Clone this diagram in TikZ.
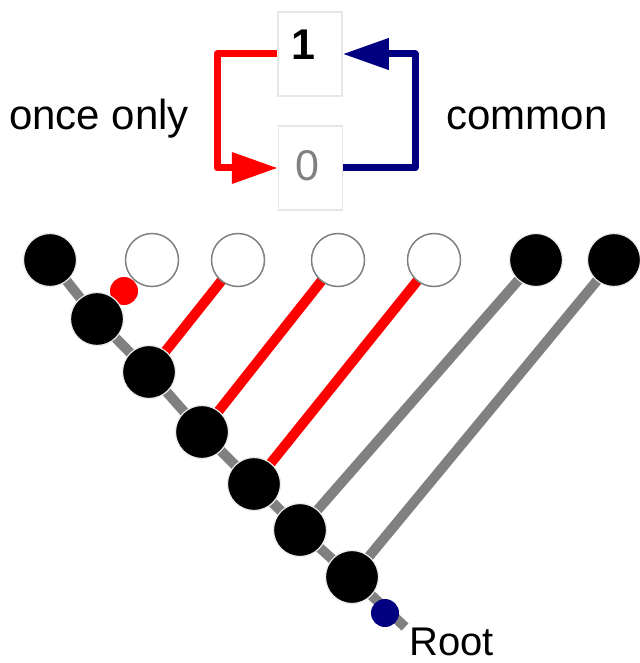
\documentclass[tikz,border=0pt]{standalone}
\usepackage{fontspec}
\setmainfont{Liberation Sans}
\usetikzlibrary{arrows.meta}
\definecolor{navy}{HTML}{000080}
\definecolor{boxgray}{HTML}{E6E6E6}
\begin{document}
\begin{tikzpicture}[x=1pt,y=-1pt,
  lbl/.style={inner sep=0pt,font=\fontsize{42}{42}\selectfont},
  statebox/.style={draw=boxgray,line width=1.5pt,fill=white,minimum width=64pt,minimum height=84pt,inner sep=0pt},
  blacknode/.style={circle,fill=black,draw=black!8,line width=1.2pt,minimum size=53pt,inner sep=0pt},
  whitenode/.style={circle,fill=white,draw=black!50,line width=1.5pt,minimum size=53pt,inner sep=0pt},
  spine/.style={draw=black!50,line width=10pt},
  rededge/.style={draw=red,line width=10pt},
  grayedge/.style={draw=black!50,line width=10pt},
  loop/.style={line width=7pt,line join=round,-{Triangle[length=46pt,width=30pt]}},
  dot/.style={circle,inner sep=0pt,minimum size=28pt}]
\useasboundingbox (0,0) rectangle (639,663);
% top state boxes
\node[statebox] (b1) at (310,54) {};
\node[statebox] (b0) at (310.5,168) {};
\node[lbl,anchor=base,font=\fontsize{43}{43}\selectfont\bfseries] (t1) at (303,60) {1};
\node[lbl,anchor=base,font=\fontsize{43}{43}\selectfont,text=black!50] (t0) at (307.5,180) {0};
\draw[loop,red] (b1.west) -- (217,54) -- (217,168) -- (b0.west);
\draw[loop,navy] (b0.east) -- (415,168) -- (415,54) -- (b1.east);
\node[lbl,anchor=base] (once) at (99,130) {once only};
\node[lbl,anchor=base] (common) at (527,130) {common};
% tree coordinates
\coordinate (pA0) at (50,260);
\coordinate (pA1) at (97,319);
\coordinate (pA2) at (149,372);
\coordinate (pA3) at (202,432);
\coordinate (pA4) at (254,484);
\coordinate (pA5) at (300,530);
\coordinate (pA6) at (352,577);
\coordinate (rootend) at (405,627);
\coordinate (pW1) at (152,260);
\coordinate (pW2) at (238,260);
\coordinate (pW3) at (338,260);
\coordinate (pW4) at (434,260);
\coordinate (pB5) at (536,260);
\coordinate (pB6) at (614,260);
% edges
\draw[spine] (pA0) -- (pA1) -- (pA2) -- (pA3) -- (pA4) -- (pA5) -- (pA6) -- (rootend);
\draw[rededge] (pW2) -- (pA2);
\draw[rededge] (pW3) -- (pA3);
\draw[rededge] (pW4) -- (pA4);
\draw[grayedge] (pB5) -- (pA5);
\draw[grayedge] (pB6) -- (pA6);
% dots
\node[dot,fill=red] (reddot) at (124,291) {};
\node[dot,fill=navy] (bluedot) at (385,613) {};
% nodes
\node[blacknode] (A0) at (pA0) {};
\node[blacknode] (A1) at (pA1) {};
\node[blacknode] (A2) at (pA2) {};
\node[blacknode] (A3) at (pA3) {};
\node[blacknode] (A4) at (pA4) {};
\node[blacknode] (A5) at (pA5) {};
\node[blacknode] (A6) at (pA6) {};
\node[whitenode] (W1) at (pW1) {};
\node[whitenode] (W2) at (pW2) {};
\node[whitenode] (W3) at (pW3) {};
\node[whitenode] (W4) at (pW4) {};
\node[blacknode] (B5) at (pB5) {};
\node[blacknode] (B6) at (pB6) {};
\node[lbl,anchor=base west,font=\fontsize{40}{40}\selectfont] (root) at (409,655) {Root};
\end{tikzpicture}
\end{document}
